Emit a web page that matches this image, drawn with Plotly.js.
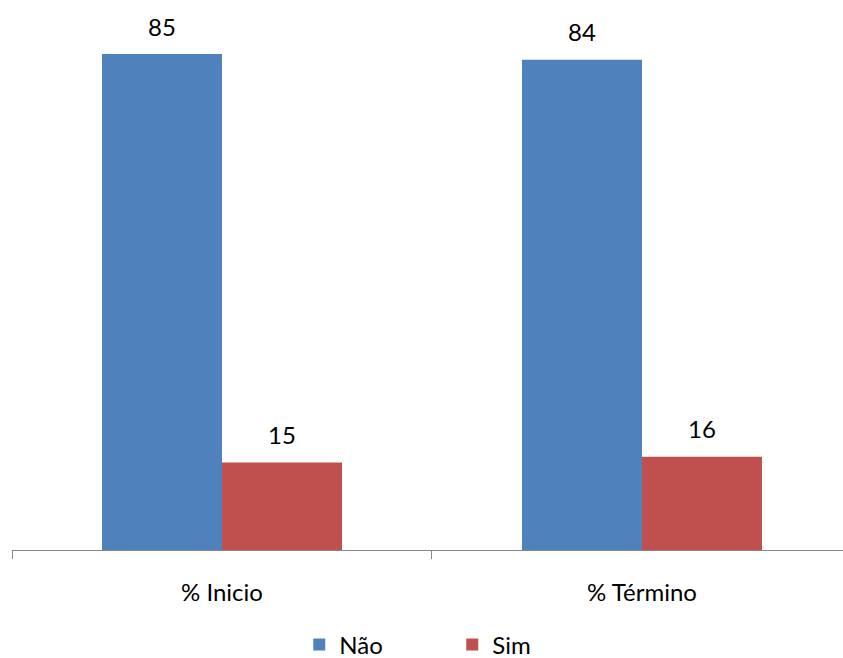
<!DOCTYPE html>
<html>
<head>
<meta charset="utf-8">
<script src="https://cdn.plot.ly/plotly-3.0.1.min.js"></script>
<style>html,body{margin:0;padding:0;background:#fff;}#chart{width:843px;height:658px;}</style>
</head>
<body>
<div id="chart"></div>
<script>
const categories = ["% Inicio", "% Término"];
const naoValues = [85, 84];
const simValues = [15, 16];
const seriesNames = ["Não", "Sim"];
const seriesColors = ["#4F81BD", "#C0504D"];

const FONT = "Lato, 'Open Sans', sans-serif";
const FS = 24;

const traces = [
  {type: "bar", name: seriesNames[0], x: categories, y: naoValues,
   marker: {color: seriesColors[0], line: {width: 0}}, hoverinfo: "none"},
  {type: "bar", name: seriesNames[1], x: categories, y: simValues,
   marker: {color: seriesColors[1], line: {width: 0}}, hoverinfo: "none"}
];

const annotations = [];
[naoValues, simValues].forEach((vals, si) => {
  vals.forEach((v, i) => {
    annotations.push({
      x: categories[i], y: v, xref: "x", yref: "y",
      text: String(v), showarrow: false,
      xshift: si === 0 ? -60 : 60, yshift: 28,
      yanchor: "middle",
      font: {family: FONT, size: FS, color: "#000"}
    });
  });
});

const layout = {
  width: 843, height: 658,
  margin: {l: 12, r: 0, t: 10, b: 108},
  paper_bgcolor: "#fff", plot_bgcolor: "#fff",
  barmode: "group", bargap: 0.4286, bargroupgap: 0,
  showlegend: true,
  legend: {
    orientation: "h", xref: "container", yref: "container",
    x: 0.355, xanchor: "left", y: 0.02, yanchor: "middle",
    font: {family: FONT, size: FS, color: "#000"},
    entrywidth: 108, entrywidthmode: "pixels",
    traceorder: "normal"
  },
  xaxis: {
    type: "category", range: [-0.5, 1.4786],
    showline: true, linecolor: "#868686", linewidth: 1,
    ticks: "outside", tickson: "boundaries", ticklen: 8, tickcolor: "#868686", tickwidth: 1,
    showgrid: false, zeroline: false,
    tickfont: {family: FONT, size: FS, color: "#000"},
    ticklabelstandoff: 21
  },
  yaxis: {
    range: [0, 92.54], visible: false, showgrid: false, zeroline: false
  },
  annotations: annotations,
  font: {family: FONT}
};

Plotly.newPlot("chart", traces, layout, {displayModeBar: false, staticPlot: true});
</script>
</body>
</html>
